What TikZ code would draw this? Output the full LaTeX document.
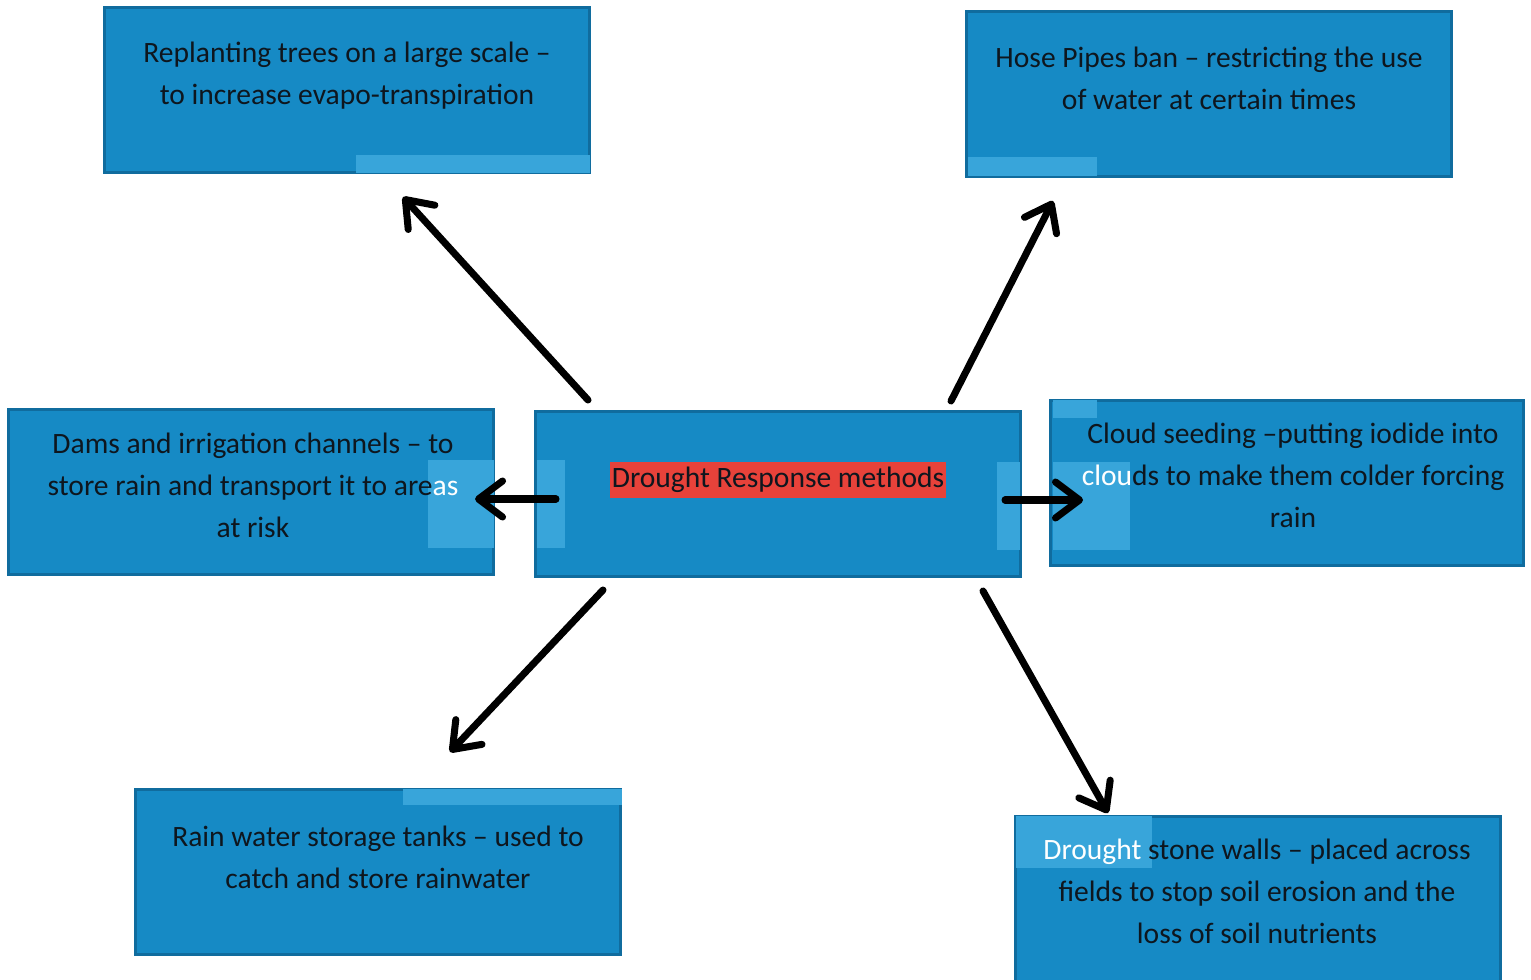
\documentclass[tikz,border=0pt]{standalone}
\usepackage{fontspec}
\setmainfont{Carlito}
\usetikzlibrary{positioning,arrows.meta}

\definecolor{boxblue}{RGB}{22,138,197}
\definecolor{edgeblue}{RGB}{16,108,158}
\definecolor{lightblue}{RGB}{56,165,218}
\definecolor{hired}{RGB}{231,66,58}
\definecolor{inkdark}{RGB}{14,22,30}

\begin{document}
\begin{tikzpicture}[
  x=0.01cm, y=-0.01cm,
  box/.style={draw=edgeblue,line width=0.9pt,fill=boxblue,minimum width=4.85cm,minimum height=1.65cm},
  txt/.style={align=center,text=inkdark,font=\fontsize{8.4}{11.9}\selectfont},
  patch/.style={fill=lightblue},
  arr/.style={-{Straight Barb[length=2.4mm,width=3.6mm,round]},line width=2pt,line cap=round,black}
]
\useasboundingbox (0,0) rectangle (1531,979);

% boxes
\node[box] (trees) at (347,90) {};
\node[box] (hose) at (1209,94) {};
\node[box] (dams) at (251,492) {};
\node[box] (center) at (778,494) {};
\node[box,minimum width=4.73cm] (cloud) at (1287,483) {};
\node[box] (tanks) at (378,872) {};
\node[box] (walls) at (1258,899) {};

% light patches
\fill[patch] (356,155) rectangle (590,173);
\fill[patch] (968,157) rectangle (1097,176);
\fill[patch] (537,460) rectangle (565,548);
\fill[patch] (997,462) rectangle (1020,550);
\fill[patch] (428,460) rectangle (494,548);
\fill[patch] (1053,462) rectangle (1130,550);
\fill[patch] (1053,400) rectangle (1097,418);
\fill[patch] (403,789) rectangle (622,805);
\fill[patch] (1016,816) rectangle (1152,868);

% texts
\node[txt] (trees-t) at (347,76) {Replanting trees on a large scale –\\to increase evapo-transpiration};
\node[txt] (hose-t) at (1209,78) {Hose Pipes ban – restricting the use\\of water at certain times};
\node[txt] (dams-t) at (253,485) {Dams and irrigation channels – to\\store rain and transport it to are\textcolor{white}{as}\\at risk};
\node[txt] (cloud-t) at (1293,475) {Cloud seeding –putting iodide into\\\textcolor{white}{clou}ds to make them colder forcing\\rain};
\node[txt] (tanks-t) at (378,857) {Rain water storage tanks – used to\\catch and store rainwater};
\node[txt] (walls-t) at (1257,891) {\textcolor{white}{Drought} stone walls – placed across\\fields to stop soil erosion and the\\loss of soil nutrients};
\node[txt,fill=hired,inner xsep=0.5pt,inner ysep=0pt,minimum height=0.35cm] (center-t) at (778,480) {Drought Response methods};

% arrow ends
\coordinate (trees-s) at (588,400);
\coordinate (trees-e) at (403,197);
\coordinate (hose-s) at (951,401);
\coordinate (hose-e) at (1053,201);
\coordinate (dams-s) at (556,499);
\coordinate (dams-e) at (475,499);
\coordinate (cloud-s) at (1005,500);
\coordinate (cloud-e) at (1083,500);
\coordinate (tanks-s) at (603,590);
\coordinate (tanks-e) at (450,752);
\coordinate (walls-s) at (983,591);
\coordinate (walls-e) at (1108,813);

\path
(trees-s) edge[arr] (trees-e)
(hose-s) edge[arr] (hose-e)
(dams-s) edge[arr] (dams-e)
(cloud-s) edge[arr] (cloud-e)
(tanks-s) edge[arr] (tanks-e)
(walls-s) edge[arr] (walls-e)
;

\end{tikzpicture}
\end{document}
